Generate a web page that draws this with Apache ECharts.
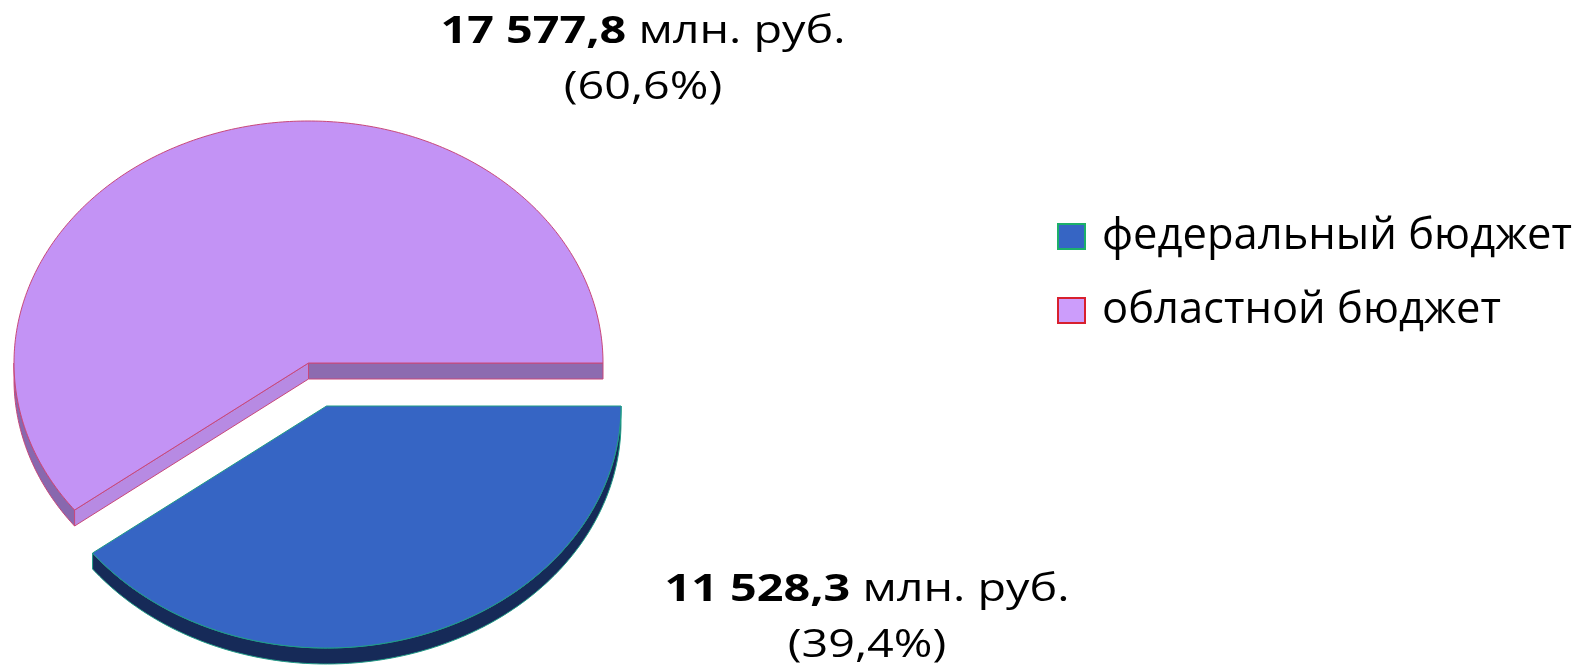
<!DOCTYPE html>
<html>
<head>
<meta charset="utf-8">
<style>
	html, body { margin: 0; padding: 0; background: #fff; }
	#Main { width: 1590px; height: 665px; }
</style>
<script src="https://cdn.jsdelivr.net/npm/echarts@6/dist/echarts.min.js"></script>
</head>
<body>
<div id="Main"></div>
<script>
// данные
var names = ['федеральный бюджет', 'областной бюджет'];
var values = [11528.3, 17577.8];
var amounts = ['11 528,3', '17 577,8'];
var percents = ['(39,4%)', '(60,6%)'];
var unit = ' млн. руб.';

var total = values[0] + values[1];
var font = '"Open Sans", "Noto Sans", sans-serif';

// цвета: верх, обводка, дуга, срез у центра, срез справа
var looks = [
	{ top: '#3665c4', line: '#1f9c86', rim: '#162a58', cutA: '#162a58', cutB: '#162a58' },
	{ top: '#c393f5', line: '#c8487a', rim: '#8868ae', cutA: '#b78ae3', cutB: '#8d6bb0' }
];

var RX = 294.5, RY = 242, DEPTH = 16;
// положение центра каждого сектора (синий выдвинут)
var centers = [[326.5, 406], [308.5, 363]];
var labelPos = [[867, 618], [643, 60]];

function pt(c, a, dy) {
	return [c[0] + RX * Math.cos(a), c[1] + RY * Math.sin(a) + dy];
}
function arc(c, a0, a1, dy) {
	var out = [];
	var n = Math.ceil(Math.abs(a1 - a0) * 80);
	for (var i = 0; i <= n; i++) {
		out.push(pt(c, a0 + (a1 - a0) * i / n, dy));
	}
	return out;
}
function poly(points, fill, stroke, width) {
	return {
		type: 'polygon',
		shape: { points: points },
		style: { fill: fill, stroke: stroke, lineWidth: width, lineJoin: 'round' }
	};
}

function makeRender(idx) {
	return function(params, api) {
		var share = api.value(0) / total;
		var before = idx == 0 ? 0 : values[0] / total;
		var a0 = before * Math.PI * 2;
		var a1 = a0 + share * Math.PI * 2;
		var c = centers[idx];
		var look = looks[idx];
		var kids = [];

		// боковая стенка по дуге, видна только снизу
		var wallEnd = Math.min(a1, Math.PI);
		if (a0 < Math.PI) {
			var lower = arc(c, a0, wallEnd, 0);
			var upper = arc(c, wallEnd, a0, DEPTH);
			kids.push(poly(lower.concat(upper), look.rim, look.line, 1));
		}
		// срезы
		var p0 = pt(c, a0, 0);
		var pEnd = pt(c, a1, 0);
		if (idx == 1) {
			kids.push(poly([c, p0, [p0[0], p0[1] + DEPTH], [c[0], c[1] + DEPTH]], look.cutA, look.line, 1));
			kids.push(poly([c, pEnd, [pEnd[0], pEnd[1] + DEPTH], [c[0], c[1] + DEPTH]], look.cutB, look.line, 1));
		}
		// верх
		kids.push(poly([c].concat(arc(c, a0, a1, 0)), look.top, look.line, 1));

		// подпись, в оригинале текст растянут по ширине
		kids.push({
			type: 'text',
			x: labelPos[idx][0],
			y: labelPos[idx][1],
			scaleX: 1.23,
			style: {
				text: '{b|' + amounts[idx] + '}{n|' + unit + '}\n{n|' + percents[idx] + '}',
				align: 'center',
				verticalAlign: 'middle',
				fill: '#000',
				rich: {
					b: { font: 'bold 38px ' + font, lineHeight: 56, fill: '#000' },
					n: { font: '38px ' + font, lineHeight: 56, fill: '#000' }
				}
			}
		});
		return { type: 'group', children: kids };
	};
}

var myChart = echarts.init(document.getElementById('Main'), null, { renderer: 'canvas' });
myChart.setOption({
	animation: false,
	backgroundColor: '#ffffff',
	legend: {
		orient: 'vertical',
		left: 1057,
		top: 208.5,
		padding: 0,
		itemWidth: 27,
		itemHeight: 25,
		itemGap: 18,
		selectedMode: false,
		textStyle: { fontFamily: font, fontSize: 43.5, color: '#000', lineHeight: 50, padding: [6, 0, 0, 12] },
		data: [
			{ name: names[0], icon: 'rect', itemStyle: { color: looks[0].top, borderColor: '#1cb06a', borderWidth: 2 } },
			{ name: names[1], icon: 'rect', itemStyle: { color: '#cc9dfb', borderColor: '#d8202e', borderWidth: 2 } }
		]
	},
	series: [{
		name: names[1],
		type: 'custom',
		coordinateSystem: 'none',
		renderItem: makeRender(1),
		data: [[values[1]]],
		itemStyle: { color: looks[1].top }
	}, {
		name: names[0],
		type: 'custom',
		coordinateSystem: 'none',
		renderItem: makeRender(0),
		data: [[values[0]]],
		itemStyle: { color: looks[0].top }
	}]
});
</script>
</body>
</html>
